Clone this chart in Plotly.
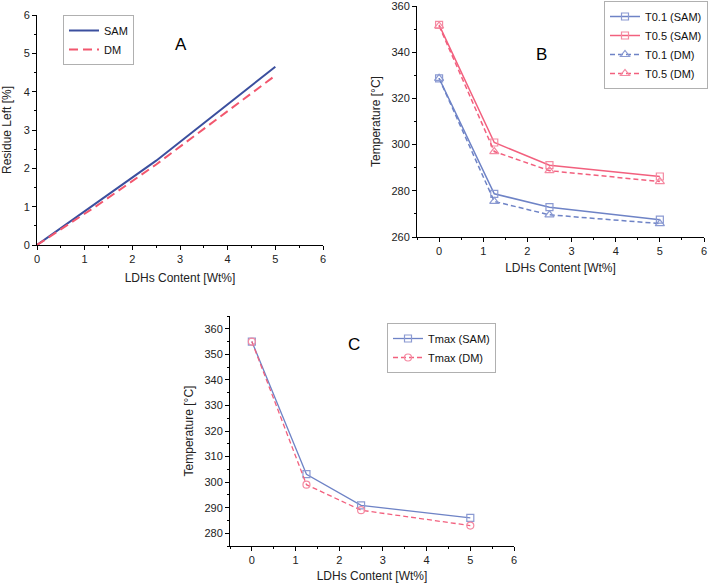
import plotly.graph_objects as go

# ---- data ----
ldh = [0, 1.25, 2.5, 5]

residue_sam = [0, 1.10, 2.20, 4.65]
residue_dm = [0, 1.02, 2.10, 4.42]

t01_sam = [328.7, 278.7, 272.9, 267.5]
t05_sam = [351.8, 300.9, 291.1, 286.2]
t01_dm = [328.7, 275.4, 269.6, 265.8]
t05_dm = [351.4, 297.0, 288.7, 284.0]

tmax_sam = [355.0, 303.1, 290.9, 286.0]
tmax_dm = [355.0, 299.0, 289.0, 283.0]

W, H = 710, 584
FONT = "Liberation Sans, Arial, sans-serif"

BLUE_DARK = "#3b4f9e"
RED = "#f2576e"
BLUE = "#6e83c6"
PINK = "#f2607e"
BLUE_L = "#8b9ad2"
PINK_L = "#f58aa2"

fig = go.Figure()

# Panel A
fig.add_trace(go.Scatter(x=ldh, y=residue_sam, mode="lines", name="SAM",
                         line=dict(color=BLUE_DARK, width=2), xaxis="x", yaxis="y", legend="legend"))
fig.add_trace(go.Scatter(x=ldh, y=residue_dm, mode="lines", name="DM",
                         line=dict(color=RED, width=2, dash="9px,5px"), xaxis="x", yaxis="y", legend="legend"))

# Panel B
fig.add_trace(go.Scatter(x=ldh, y=t01_sam, mode="lines+markers", name="T0.1 (SAM)",
                         line=dict(color=BLUE, width=1.5),
                         marker=dict(symbol="square-open", size=7, color=BLUE_L, line=dict(width=1.2)),
                         xaxis="x2", yaxis="y2", legend="legend2"))
fig.add_trace(go.Scatter(x=ldh, y=t05_sam, mode="lines+markers", name="T0.5 (SAM)",
                         line=dict(color=PINK, width=1.5),
                         marker=dict(symbol="square-open", size=7, color=PINK_L, line=dict(width=1.2)),
                         xaxis="x2", yaxis="y2", legend="legend2"))
fig.add_trace(go.Scatter(x=ldh, y=t01_dm, mode="lines+markers", name="T0.1 (DM)",
                         line=dict(color=BLUE, width=1.5, dash="5px,3px"),
                         marker=dict(symbol="triangle-up-open", size=8, color=BLUE_L, line=dict(width=1.2)),
                         xaxis="x2", yaxis="y2", legend="legend2"))
fig.add_trace(go.Scatter(x=ldh, y=t05_dm, mode="lines+markers", name="T0.5 (DM)",
                         line=dict(color=PINK, width=1.5, dash="5px,3px"),
                         marker=dict(symbol="triangle-up-open", size=8, color=PINK_L, line=dict(width=1.2)),
                         xaxis="x2", yaxis="y2", legend="legend2"))

# Panel C
fig.add_trace(go.Scatter(x=ldh, y=tmax_sam, mode="lines+markers", name="Tmax (SAM)",
                         line=dict(color=BLUE, width=1.3),
                         marker=dict(symbol="square-open", size=7, color=BLUE_L, line=dict(width=1.2)),
                         xaxis="x3", yaxis="y3", legend="legend3"))
fig.add_trace(go.Scatter(x=ldh, y=tmax_dm, mode="lines+markers", name="Tmax (DM)",
                         line=dict(color=PINK, width=1.3, dash="5px,3px"),
                         marker=dict(symbol="circle-open", size=7, color=PINK_L, line=dict(width=1.2)),
                         xaxis="x3", yaxis="y3", legend="legend3"))


def px_x(p):
    return p / W


def px_y(p):
    return 1 - p / H


def axis(domain, rng, dtick, minor_dtick, title, anchor, standoff):
    return dict(domain=domain, range=rng, dtick=dtick, tick0=0,
                showline=True, linecolor="black", linewidth=1,
                ticks="outside", ticklen=4, tickcolor="black", tickwidth=1,
                minor=dict(ticks="outside", ticklen=2, dtick=minor_dtick, tickcolor="black"),
                showgrid=False, zeroline=False, anchor=anchor, automargin=False,
                ticklabeloverflow="allow",
                tickfont=dict(size=11, color="#222", family=FONT),
                title=dict(text=title, font=dict(size=12, color="#222", family=FONT), standoff=standoff))


xt = "LDHs Content [Wt%]"
legend_common = dict(bgcolor="white", bordercolor="#b0b0b0", borderwidth=1,
                     font=dict(size=11, family=FONT, color="#111"),
                     yanchor="top", tracegroupgap=0, itemwidth=30)

fig.update_layout(
    width=W, height=H, paper_bgcolor="white", plot_bgcolor="white",
    margin=dict(l=0, r=0, t=0, b=0, autoexpand=False),
    font=dict(family=FONT),
    xaxis=axis([px_x(37), px_x(323)], [0, 6], 1, 0.5, xt, "y", 9),
    yaxis=axis([px_y(245), px_y(15)], [0, 6], 1, 0.5, "Residue Left [%]", "x", 14),
    xaxis2=axis([px_x(417), px_x(704)], [-0.5, 6], 1, 0.5, xt, "y2", 7),
    yaxis2=axis([px_y(237), px_y(6)], [260, 360], 20, 10, "Temperature [°C]", "x2", 8),
    xaxis3=axis([px_x(230), px_x(514)], [-0.5, 6], 1, 0.5, xt, "y3", 6),
    yaxis3=axis([px_y(546), px_y(316)], [275, 365], 10, 5, "Temperature [°C]", "x3", 8),
    legend=dict(x=px_x(63), y=px_y(15), xanchor="left", **legend_common),
    legend2=dict(x=px_x(708), y=px_y(1), xanchor="right", **legend_common),
    legend3=dict(x=px_x(387), y=px_y(323), xanchor="left", **legend_common),
    showlegend=True,
    annotations=[
        dict(text="A", x=px_x(173), y=px_y(33), xref="paper", yref="paper", showarrow=False,
             font=dict(size=17, family=FONT, color="black")),
        dict(text="B", x=px_x(549), y=px_y(43), xref="paper", yref="paper", showarrow=False,
             font=dict(size=17, family=FONT, color="black")),
        dict(text="C", x=px_x(354), y=px_y(344), xref="paper", yref="paper", showarrow=False,
             font=dict(size=17, family=FONT, color="black")),
    ],
)

fig.write_html("out.html", config={"displayModeBar": False},
               post_script="document.body.style.margin='0';document.body.style.overflow='hidden';")
